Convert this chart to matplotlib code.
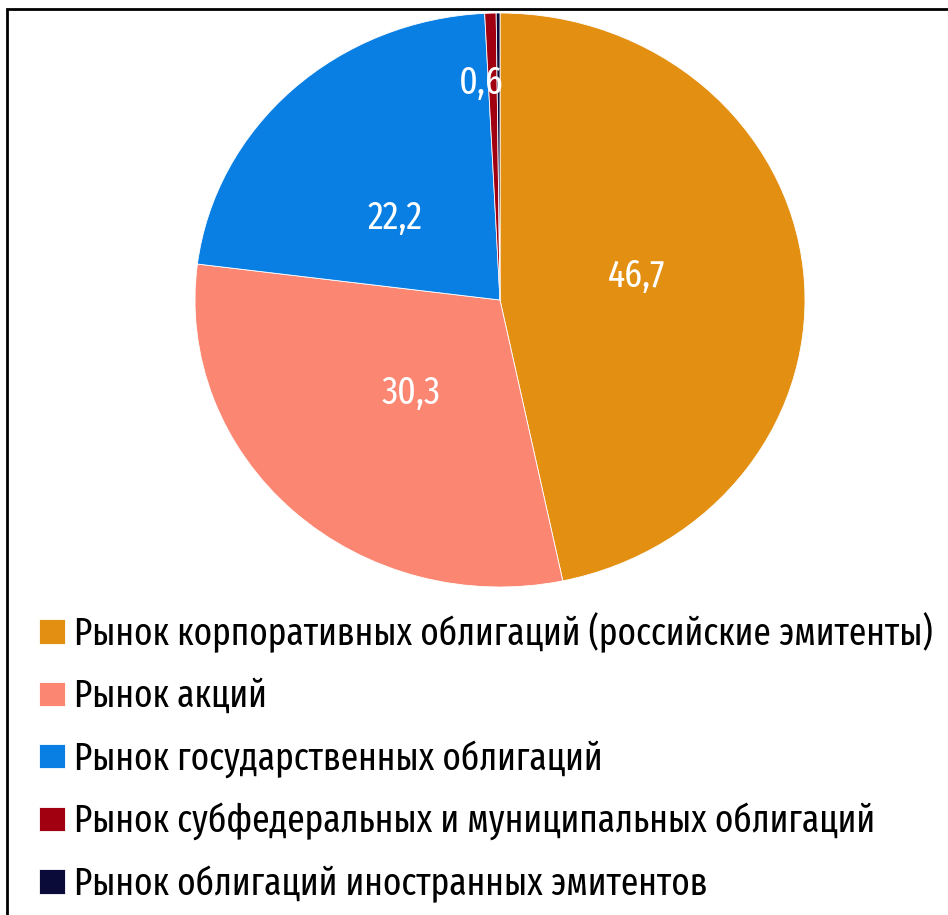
import matplotlib.pyplot as plt
from matplotlib.patches import Rectangle
import numpy as np

plt.rcParams['font.family'] = ['Fira Sans Extra Condensed', 'Roboto Condensed', 'DejaVu Sans']

segments = ["Рынок корпоративных облигаций (российские эмитенты)",
            "Рынок акций",
            "Рынок государственных облигаций",
            "Рынок субфедеральных и муниципальных облигаций",
            "Рынок облигаций иностранных эмитентов"]
shares = [46.7, 30.3, 22.2, 0.6, 0.2]
value_labels = ["46,7", "30,3", "22,2", "0,6", ""]
colors = ["#E38F12", "#FB8671", "#0A7FE3", "#A00010", "#0B0B3A"]

W, H = 948, 915
fig = plt.figure(figsize=(W / 100, H / 100), dpi=100)

# pie box in pixels: x 195..805, y 13..587 (slightly stretched horizontally)
ax = fig.add_axes([195 / W, 1 - 587 / H, 610 / W, 574 / H])
wedges, _ = ax.pie(shares, colors=colors, startangle=90, counterclock=False,
                   radius=1, wedgeprops=dict(edgecolor="white", linewidth=0.6))
ax.set_aspect("auto")
ax.set_xlim(-1, 1)
ax.set_ylim(-1, 1)
ax.axis("off")

# label distances from centre (fraction of radius) and angle nudges
dists = [0.454, 0.436, 0.447, 0.759]
shifts = [4.7, 0.6, 7.5, 2.9]
for w, lab, d, s in zip(wedges, value_labels, dists, shifts):
    if not lab:
        continue
    ang = np.deg2rad((w.theta1 + w.theta2) / 2 + s)
    ax.text(d * np.cos(ang), d * np.sin(ang), lab, color="white",
            fontsize=28, ha="center", va="center")

fig.legend(wedges, segments, loc="upper left", bbox_to_anchor=(39 / W, 1 - 612 / H),
           frameon=False, fontsize=27.5, handlelength=0.68, handleheight=0.6,
           handletextpad=0.24, labelspacing=0.65, borderpad=0, borderaxespad=0)

# outer frame
fig.patches.append(Rectangle((7 / W, -0.1), 1.1, 1 - 9 / H + 0.1, transform=fig.transFigure,
                             fill=False, edgecolor="black", linewidth=2))

fig.savefig("out.png", dpi=100)
